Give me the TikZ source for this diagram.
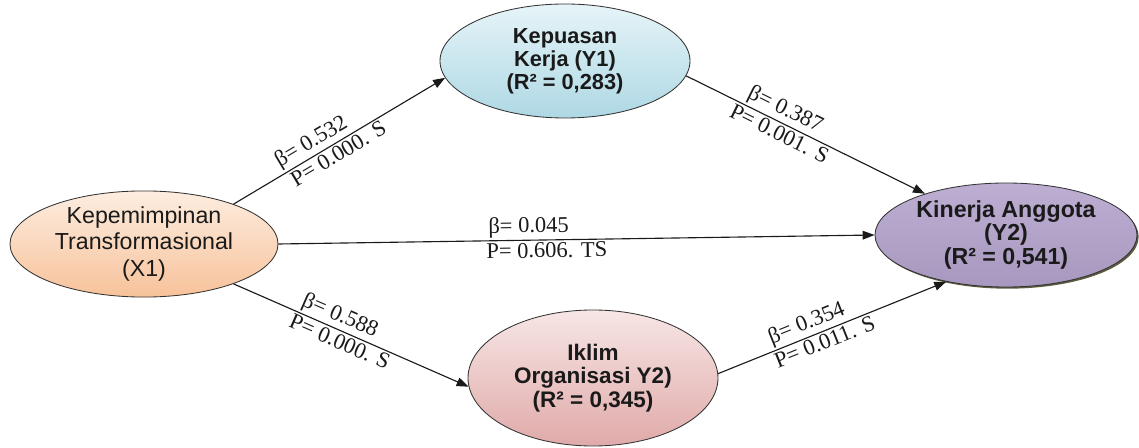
\documentclass[tikz,border=0pt]{standalone}
\usepackage{fontspec}
\setmainfont{Liberation Serif}
\setsansfont{Liberation Sans}
\usepackage{tikz}
\usetikzlibrary{arrows.meta,shapes.geometric,shadows}
\definecolor{ink}{HTML}{1A1A1A}
\definecolor{peachtop}{HTML}{FDEDE0}
\definecolor{peachbot}{HTML}{F7C29A}
\definecolor{bluetop}{HTML}{E6F4F8}
\definecolor{bluebot}{HTML}{AED8E4}
\definecolor{lilactop}{HTML}{BDAED2}
\definecolor{lilacbot}{HTML}{A898BF}
\definecolor{rosetop}{HTML}{F7E6E5}
\definecolor{rosebot}{HTML}{DFAAA9}
\definecolor{shade}{HTML}{4A4A2A}

\begin{document}
\begin{tikzpicture}[
  every node/.style={align=center},
  latent/.style={ellipse,draw=black!80,line width=0.6pt,inner sep=0pt,text=ink,
    font=\sffamily\bfseries\fontsize{15.5}{16.5}\selectfont},
  link/.style={-{Triangle[length=3mm,width=2.2mm]},line width=0.8pt,draw=ink},
  coef/.style={font=\rmfamily\fontsize{16}{16}\selectfont,inner sep=1.5pt,sloped,text=ink},
]
\useasboundingbox (0,0) rectangle (28.475,11.2);

% latent variables
\node[latent,font=\sffamily\fontsize{16.5}{19}\selectfont,minimum width=6.7cm,minimum height=2.55cm,
  top color=peachtop,bottom color=peachbot] (x1) at (3.6,5.1)
  {Kepemimpinan\\Transformasional\\(X1)};
\node[latent,minimum width=6.25cm,minimum height=2.85cm,
  top color=bluetop,bottom color=bluebot] (y1) at (14.125,9.675)
  {Kepuasan\\Kerja (Y1)\\(R² = 0,283)};
\node[latent,font=\sffamily\bfseries\fontsize{16.5}{16.5}\selectfont,minimum width=6.55cm,minimum height=2.6cm,
  top color=lilactop,bottom color=lilacbot,
  drop shadow={shadow xshift=1.2pt,shadow yshift=-1.2pt,fill=shade,opacity=0.9}] (y2) at (25.15,5.325)
  {Kinerja Anggota\\(Y2)\\(R² = 0,541)};
\node[latent,font=\sffamily\bfseries\fontsize{16}{16.5}\selectfont,minimum width=6.25cm,minimum height=3.4cm,
  top color=rosetop,bottom color=rosebot] (iklim) at (14.825,1.75)
  {Iklim\\Organisasi Y2)\\(R² = 0,345)};

% paths
\draw[link] (x1.24) -- node[coef,above,pos=0.40]{β= 0.532} node[coef,below,pos=0.47]{P= 0.000. S} (y1.188);
\draw[link] (x1.east) -- node[coef,above,pos=0.42]{β= 0.045} node[coef,below,pos=0.45]{P= 0.606. TS} (y2.west);
\draw[link] (x1.-24) -- node[coef,above,pos=0.43]{β= 0.588} node[coef,below,pos=0.47]{P= 0.000. S} (iklim.184);
\draw[link] (y1.-7) -- node[coef,above,pos=0.39]{β= 0.387} node[coef,below,pos=0.41]{P= 0.001. S} (y2.153);
\draw[link] (iklim.2) -- node[coef,above,pos=0.41]{β= 0.354} node[coef,below,pos=0.45]{P= 0.011. S} (y2.218);
\end{tikzpicture}
\end{document}
